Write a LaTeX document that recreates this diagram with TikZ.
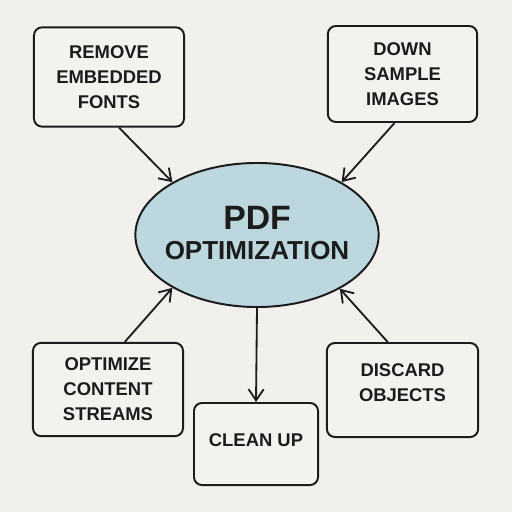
\documentclass[tikz,border=0pt]{standalone}
\usepackage{fontspec}
\setmainfont{Liberation Sans}
\usetikzlibrary{arrows.meta,shapes.geometric}
\definecolor{paper}{HTML}{F1F0ED}
\definecolor{boxfill}{HTML}{F3F2EF}
\definecolor{hub}{HTML}{BDD7DF}
\definecolor{ink}{HTML}{1C1C1C}
\tikzset{
  task/.style={draw=ink, line width=1.4pt, rounded corners=0.2cm, fill=boxfill,
    align=center, text=ink, inner sep=0pt,
    font=\bfseries\fontsize{13.1}{17.7}\selectfont},
  hubnode/.style={ellipse, draw=ink, line width=1.4pt, fill=hub, text=ink,
    align=center, inner sep=0pt, minimum width=6.08cm, minimum height=3.6cm},
  link/.style={draw=ink, line width=1.3pt, -{Straight Barb[length=2.8mm,width=3.8mm]}}
}
\begin{document}
\begin{tikzpicture}[x=0.025cm, y=-0.025cm]
    \fill[paper] (0,0) rectangle (512,512);
    \useasboundingbox (0,0) rectangle (512,512);

    % centre
    \node[hubnode] (pdf) at (257,235)
      {\makebox[2.5cm]{\bfseries\fontsize{24}{24}\selectfont PDF}\\[7.5pt]
       \makebox[2.5cm]{\bfseries\fontsize{18.5}{20}\selectfont OPTIMIZATION}\\[-9pt]\mbox{}};

    % the four corners and the bottom
    \node[task, minimum width=3.75cm, minimum height=2.48cm] (fonts) at (109,77)
      {REMOVE\\EMBEDDED\\FONTS};
    \node[task, minimum width=3.73cm, minimum height=2.4cm] (images) at (402.5,74)
      {DOWN\\SAMPLE\\IMAGES};
    \node[task, minimum width=3.75cm, minimum height=2.33cm] (streams) at (108,389.5)
      {OPTIMIZE\\CONTENT\\STREAMS};
    \node[task, minimum width=3.78cm, minimum height=2.35cm] (discard) at (402.5,390)
      {DISCARD\\OBJECTS\\[-7pt]\mbox{}};
    \node[task, minimum width=3.1cm, minimum height=2.05cm] (cleanup) at (256,444)
      {CLEAN UP\\[-12.7pt]\mbox{}};

    \draw[link] ([xshift=0.25cm]fonts.south) -- (pdf.148);
    \draw[link] ([xshift=-0.2cm]images.south) -- (pdf.32);
    \draw[link] ([xshift=0.42cm]streams.north) -- (pdf.212);
    \draw[link] ([xshift=-0.37cm]discard.north) -- (pdf.327);
    \draw[link] (pdf.south) -- (cleanup.north);
\end{tikzpicture}
\end{document}
